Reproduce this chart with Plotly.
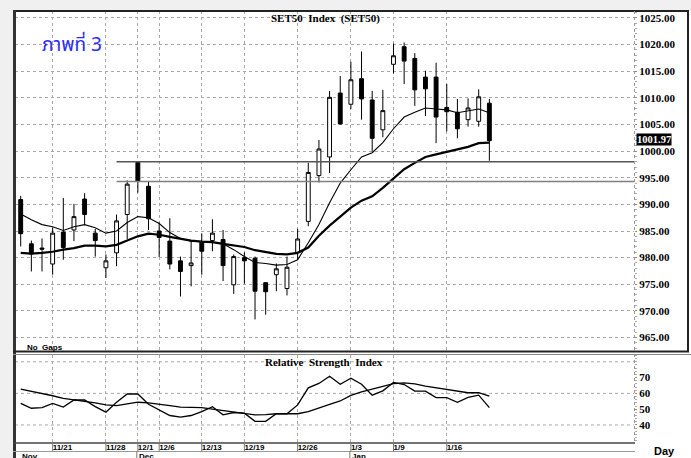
import plotly.graph_objects as go

# ---------------- data ----------------
dates = ["11/16", "11/17", "11/18", "11/21", "11/22", "11/23", "11/24", "11/25", "11/28", "11/29",
         "11/30", "12/1", "12/2", "12/6", "12/7", "12/8", "12/9", "12/13", "12/14", "12/15",
         "12/16", "12/19", "12/20", "12/21", "12/22", "12/23", "12/26", "12/27", "12/28", "12/29",
         "12/30", "1/3", "1/4", "1/5", "1/6", "1/9", "1/10", "1/11", "1/12", "1/13",
         "1/16", "1/17", "1/18", "1/19", "1/20"]

open_ = [990.9, 982.6, 981.8, 978.8, 984.8, 985.2, 991.0, 984.6, 978.1, 980.9,
         988.1, 997.9, 993.4, 985.0, 983.1, 979.4, 978.5, 982.9, 983.2, 983.4,
         974.9, 980.0, 979.9, 975.3, 976.8, 974.2, 981.0, 986.8, 995.4, 998.9,
         1010.9, 1008.8, 1013.6, 1009.6, 1004.0, 1016.3, 1019.6, 1017.4, 1013.9, 1013.9,
         1008.2, 1007.3, 1005.9, 1005.6, 1009.0]
high = [991.6, 983.2, 983.6, 985.6, 991.2, 990.1, 992.1, 985.4, 980.6, 988.1,
        994.5, 998.0, 994.3, 986.6, 987.4, 980.2, 983.1, 984.5, 987.2, 985.2,
        980.6, 981.0, 980.2, 975.4, 978.9, 980.2, 985.4, 997.8, 1002.1, 1011.3,
        1014.1, 1016.8, 1018.7, 1011.3, 1011.5, 1020.2, 1020.4, 1018.4, 1015.1, 1016.6,
        1012.6, 1009.8, 1009.9, 1011.6, 1009.8]
low = [982.1, 977.4, 977.4, 976.8, 979.6, 983.1, 986.2, 980.2, 976.2, 978.4,
       983.5, 992.2, 985.2, 980.1, 977.8, 972.7, 974.6, 976.8, 981.2, 975.6,
       973.2, 975.1, 968.4, 969.3, 973.7, 972.9, 979.6, 985.9, 994.1, 995.9,
       1005.0, 1007.9, 1005.9, 999.9, 1002.6, 1014.6, 1012.6, 1008.5, 1006.6, 1001.5,
       1003.7, 1002.4, 1004.6, 1004.6, 998.2]
close = [984.5, 980.7, 981.6, 984.6, 981.9, 987.7, 988.1, 983.2, 979.4, 986.9,
         993.8, 994.3, 987.3, 983.8, 978.8, 977.4, 979.0, 981.2, 984.6, 978.5,
         980.2, 979.4, 973.7, 973.6, 977.9, 978.2, 983.5, 996.0, 1000.4, 1010.1,
         1005.1, 1013.4, 1009.8, 1002.4, 1007.6, 1017.9, 1016.9, 1011.5, 1011.7, 1006.4,
         1007.4, 1004.2, 1008.1, 1010.2, 1001.97]

ma_short = [988.2, 987.1, 986.2, 985.8, 985.1, 985.8, 986.2, 985.6, 984.6, 985.0,
            986.6, 987.7, 987.5, 986.4, 984.7, 983.6, 983.1, 983.0, 982.9, 982.6,
            981.5, 980.2, 979.1, 978.9, 978.6, 978.7, 979.6, 982.8, 986.2, 990.3,
            994.0, 996.5, 998.9, 999.7, 1001.6, 1004.2, 1006.4, 1007.3, 1008.1, 1007.9,
            1007.75, 1007.2, 1007.5, 1007.9, 1007.2]
ma_long = [980.9, 980.75, 980.9, 981.1, 981.5, 981.8, 982.25, 982.25, 982.1, 982.4,
           983.2, 984.0, 984.5, 984.3, 983.9, 983.5, 983.2, 983.0, 982.9, 982.6,
           982.25, 982.0, 981.4, 981.0, 980.7, 980.6, 980.9, 981.9, 984.1, 986.0,
           987.7, 989.4, 990.7, 991.5, 993.1, 994.9, 996.6, 997.8, 998.9, 999.4,
           999.9, 1000.4, 1000.8, 1001.5, 1001.6]

rsi = [53.7, 50.6, 51.0, 53.7, 51.3, 55.8, 55.8, 51.6, 48.1, 54.4,
       59.6, 59.6, 53.1, 49.6, 46.0, 45.0, 46.0, 48.5, 51.6, 46.4,
       47.9, 47.5, 42.3, 42.3, 47.1, 47.1, 52.7, 63.5, 66.3, 70.8,
       65.8, 69.6, 65.8, 58.9, 61.6, 66.9, 65.6, 61.4, 61.4, 57.3,
       57.3, 54.4, 57.5, 58.9, 51.0]
rsi_ma = [62.7, 61.4, 60.0, 58.5, 56.9, 56.0, 55.2, 54.0, 52.7, 52.3,
          53.3, 54.4, 54.0, 53.3, 52.3, 51.3, 51.1, 51.0, 50.0, 49.1,
          48.3, 47.5, 46.4, 46.6, 47.1, 47.1, 47.1, 48.5, 51.0, 53.0,
          55.2, 58.7, 61.0, 62.7, 64.1, 66.2, 66.6, 66.0, 64.6, 63.5,
          62.5, 61.5, 60.4, 60.4, 58.3]

tick_dates = ["11/21", "11/28", "12/1", "12/6", "12/13", "12/19", "12/26", "1/3", "1/9", "1/16"]
price_ticks = [965, 970, 975, 980, 985, 990, 995, 1000, 1005, 1010, 1015, 1020, 1025]
rsi_ticks = [40, 50, 60, 70]
rsi_grid = [40, 60, 80]
level_lines = [998.0, 994.3]
level_start = "11/29"
months = ["Nov", "Dec", "Jan"]
month_nums = ["11", "12", "1"]
last_label = "1001.97"

# ---------------- geometry helpers (pixels -> paper) ----------------
W, H = 691, 458
L, R, T, B = 15, 57, 11, 15
PW, PH = W - L - R, H - T - B


def xp(px):
    return (px - L) / PW


def yp(py):
    return (H - B - py) / PH


x = list(range(len(dates)))
x_range = [-0.535, 57.58]
tickvals = [dates.index(d) for d in tick_dates]

SERIF = "Liberation Serif, Times New Roman, serif"
SANS = "Liberation Sans, Arial, sans-serif"
GRID = "#a8a8a8"

fig = go.Figure()

fig.add_trace(go.Candlestick(
    x=x, open=open_, high=high, low=low, close=close,
    increasing=dict(line=dict(color="black", width=1), fillcolor="white"),
    decreasing=dict(line=dict(color="black", width=1), fillcolor="black"),
    whiskerwidth=0, showlegend=False, xaxis="x", yaxis="y"))

fig.add_trace(go.Scatter(x=x, y=ma_short, mode="lines",
                         line=dict(color="black", width=1.1), showlegend=False,
                         xaxis="x", yaxis="y"))
fig.add_trace(go.Scatter(x=x, y=ma_long, mode="lines",
                         line=dict(color="black", width=2.2), showlegend=False,
                         xaxis="x", yaxis="y"))

fig.add_trace(go.Scatter(x=x, y=rsi, mode="lines",
                         line=dict(color="black", width=1.3), showlegend=False,
                         xaxis="x2", yaxis="y2"))
fig.add_trace(go.Scatter(x=x, y=rsi_ma, mode="lines",
                         line=dict(color="black", width=1.3), showlegend=False,
                         xaxis="x2", yaxis="y2"))

shapes = []
# white chart area over a light-grey page edge
shapes.append(dict(type="rect", xref="paper", yref="paper", x0=xp(14), x1=xp(W + 2),
                   y0=yp(11), y1=yp(H + 2), fillcolor="white", line=dict(width=0), layer="below"))
# level lines
for i, lv in enumerate(level_lines):
    shapes.append(dict(type="line", xref="x", yref="y", x0=dates.index(level_start), x1=x_range[1],
                       y0=lv, y1=lv, line=dict(color="#555555" if i == 0 else "#808080", width=1.5)))
# RSI grid
for g in rsi_grid:
    shapes.append(dict(type="line", xref="x2 domain", yref="y2", x0=0, x1=1, y0=g, y1=g,
                       line=dict(color=GRID, width=1, dash="dot"), layer="below"))
# frames
frame = "#222222"
shapes += [
    dict(type="line", xref="paper", yref="paper", x0=xp(13), x1=xp(689), y0=yp(11), y1=yp(11),
         line=dict(color=frame, width=2)),
    dict(type="line", xref="paper", yref="paper", x0=xp(14.5), x1=xp(14.5), y0=yp(10), y1=yp(H),
         line=dict(color="#333333", width=3)),
    dict(type="line", xref="paper", yref="paper", x0=xp(688), x1=xp(688), y0=yp(10), y1=yp(352),
         line=dict(color=frame, width=2)),
    dict(type="line", xref="paper", yref="paper", x0=xp(13), x1=xp(689), y0=yp(351.5), y1=yp(351.5),
         line=dict(color=frame, width=2)),
    dict(type="line", xref="paper", yref="paper", x0=xp(13), x1=xp(W), y0=yp(354.5), y1=yp(354.5),
         line=dict(color="#888888", width=1)),
    dict(type="line", xref="paper", yref="paper", x0=xp(13), x1=xp(635), y0=yp(443), y1=yp(443),
         line=dict(color="#444444", width=1.5)),
    dict(type="line", xref="paper", yref="paper", x0=xp(13), x1=xp(635), y0=yp(451.5), y1=yp(451.5),
         line=dict(color="#999999", width=1)),
    dict(type="line", xref="paper", yref="paper", x0=xp(634.5), x1=xp(634.5), y0=yp(11), y1=yp(352),
         line=dict(color="#999999", width=1, dash="dot")),
    dict(type="line", xref="paper", yref="paper", x0=xp(634.5), x1=xp(634.5), y0=yp(354), y1=yp(443),
         line=dict(color="#999999", width=1, dash="dot")),
]
# date separators
for tv in tickvals:
    shapes.append(dict(type="line", xref="x2", yref="paper", x0=tv, x1=tv, y0=yp(443), y1=yp(451.5),
                       line=dict(color="#777777", width=1)))

annotations = []
# month labels
for m, num in zip(months, month_nums):
    idx = next(i for i, d in enumerate(dates) if d.split("/")[0] == num)
    annotations.append(dict(x=idx, xref="x2", y=yp(456.5), yref="paper", text=m, showarrow=False,
                            xanchor="left", yanchor="middle", xshift=-1,
                            font=dict(family=SANS, size=8, color="black", weight="bold")))
    if idx > 0:
        shapes.append(dict(type="line", xref="x2", yref="paper", x0=idx - 0.1, x1=idx - 0.1,
                           y0=yp(451.5), y1=yp(H + 2), line=dict(color="#777777", width=1)))


def note(px, py, text, font, xanchor="center", yanchor="middle", **kw):
    return dict(x=xp(px), y=yp(py), xref="paper", yref="paper", text=text, showarrow=False,
                xanchor=xanchor, yanchor=yanchor, font=font, **kw)


annotations += [
    note(325, 18, "SET50  Index  (SET50)", dict(family=SERIF, size=11, color="black", weight="bold")),
    note(40, 46, "ภาพที่ 3",
         dict(family="Noto Sans Thai, Loma, Garuda, Tahoma, Noto Sans, sans-serif", size=19,
              color="#2b2bff"), xanchor="left"),
    note(25, 347.5, "No  Gaps", dict(family=SANS, size=8, color="black", weight="bold"), xanchor="left"),
    note(324, 362, "Relative  Strength  Index", dict(family=SERIF, size=11, color="black", weight="bold")),
    note(664, 451, "Day", dict(family=SANS, size=11, color="black", weight="bold")),
    dict(x=xp(636), y=close[-1], xref="paper", yref="y", text=last_label, showarrow=False,
         xanchor="left", yanchor="middle", bgcolor="black", borderpad=0, yshift=1,
         font=dict(family=SERIF, size=10.5, color="white", weight="bold")),
]

fig.update_layout(
    template="none",
    width=W, height=H,
    margin=dict(l=L, r=R, t=T, b=B, pad=0, autoexpand=False),
    paper_bgcolor="#f0f0f0", plot_bgcolor="white",
    showlegend=False, boxgap=0.48,
    shapes=shapes, annotations=annotations,
    xaxis=dict(domain=[0, 1], anchor="y", range=x_range, tickvals=tickvals, showticklabels=False,
               showgrid=True, gridcolor=GRID, griddash="dot", gridwidth=1, zeroline=False,
               rangeslider=dict(visible=False), ticks="", showline=False, automargin=False),
    yaxis=dict(domain=[yp(351.5), 1], anchor="x", side="right", range=[962.375, 1026.31],
               tickvals=price_ticks, ticktext=[f"{v:.2f}" for v in price_ticks],
               tickfont=dict(family=SERIF, size=11, color="black", weight="bold"),
               showgrid=True, gridcolor=GRID, griddash="dot", zeroline=False, automargin=False,
               ticks="outside", ticklen=2, tickcolor="#888888", showline=False,
               minor=dict(ticks="outside", ticklen=2, dtick=1, tickcolor="#aaaaaa", showgrid=False)),
    xaxis2=dict(domain=[0, 1], anchor="y2", range=x_range, tickvals=tickvals, ticktext=tick_dates,
                ticklabelposition="outside right", tickangle=0, automargin=False,
                ticklabelstandoff=-2,
                tickfont=dict(family=SANS, size=8, color="black", weight="bold"),
                showgrid=True, gridcolor=GRID, griddash="dot", zeroline=False, ticks="",
                showline=False),
    yaxis2=dict(domain=[0, yp(354.5)], anchor="x2", side="right", range=[28.6, 84.6],
                tickvals=rsi_ticks, automargin=False,
                tickfont=dict(family=SERIF, size=11, color="black", weight="bold"),
                showgrid=False, zeroline=False, ticks="outside", ticklen=2, tickcolor="#888888",
                minor=dict(ticks="outside", ticklen=2, dtick=2, tickcolor="#aaaaaa", showgrid=False)),
)

fig.write_html("out.html", config={"displayModeBar": False},
               post_script="document.body.style.margin='0px';document.body.style.padding='0px';")
